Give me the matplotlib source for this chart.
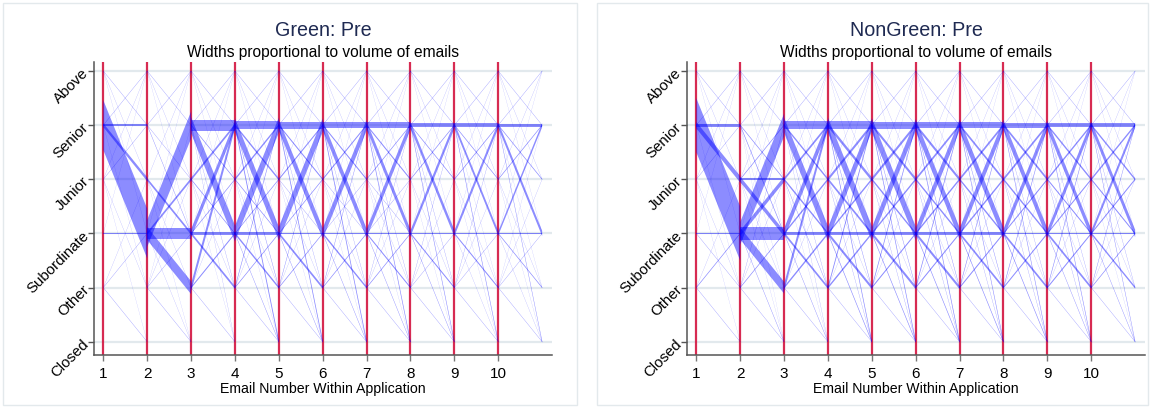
import matplotlib
matplotlib.use("Agg")
import matplotlib.pyplot as plt
from matplotlib.patches import Rectangle

plt.rcParams["font.family"] = ["Liberation Sans", "DejaVu Sans"]

# Position of each category on the vertical axis (0 = bottom)
CATEGORIES = ["Closed", "Other", "Subordinate", "Junior", "Senior", "Above"]
CODES = {"C": 0, "O": 1, "B": 2, "J": 3, "S": 4, "A": 5}   # B = Subordinate
EMAIL_NUMBERS = list(range(1, 11))
EMAILS_PER_LEVEL = 100          # band height equal to one category spacing

# Links with only a trickle of emails, present between every pair of emails
FAINT_LINKS = ["AS", "SA", "AJ", "JA", "AB", "BA", "OJ", "JO", "OC", "JC"]
FAINT_EMAILS = 1

# Emails moving from the sender level at email k (first letter)
# to the sender level at email k+1 (second letter), one dict per k
GREEN_FLOWS = [
    {"SB": 92, "SJ": 7, "SS": 3, "BB": 2, "SO": 1, "JS": 1, "OB": 1},
    {"BS": 50, "BO": 24, "BB": 20, "BJ": 5, "JB": 5, "SB": 2, "SJ": 1, "BC": 1, "OS": 1, "OB": 1},
    {"SB": 30, "SS": 20, "BS": 15, "OS": 14, "JS": 5, "BB": 5, "BO": 5, "OB": 3,
     "SO": 2, "SC": 2, "SJ": 2, "JB": 2, "BJ": 2},
    {"BS": 28, "SB": 25, "SS": 16, "SC": 8, "SJ": 4, "JS": 4, "BO": 4, "OS": 4, "BB": 4,
     "SO": 3, "OB": 2, "BC": 2, "JB": 2, "BJ": 2},
    {"BS": 25, "SB": 20, "SS": 13, "SC": 7, "BO": 5, "SJ": 3, "JS": 3, "OS": 3, "BB": 3,
     "SO": 2, "OB": 2, "BC": 2, "JB": 1, "BJ": 2},
    {"BS": 20, "SB": 18, "SS": 12, "SC": 7, "BO": 4, "SJ": 3, "JS": 3, "OS": 3, "BB": 3,
     "SO": 2, "OB": 2, "BC": 2, "JB": 1, "BJ": 1},
    {"BS": 16, "SB": 14, "SS": 10, "SC": 6, "BO": 3, "SJ": 3, "JS": 2, "OS": 2, "BB": 3,
     "SO": 2, "OB": 2, "BC": 2, "JB": 1, "BJ": 1},
    {"BS": 11, "SB": 12, "SS": 8, "SC": 5, "BO": 3, "SJ": 2, "JS": 2, "OS": 2, "BB": 2,
     "SO": 2, "OB": 1, "BC": 2},
    {"BS": 10, "SB": 9, "SS": 7, "SC": 5, "BO": 3, "SJ": 2, "JS": 2, "OS": 2, "BB": 2,
     "SO": 1, "OB": 1, "BC": 1},
    {"BS": 7, "SB": 10, "SS": 6, "SC": 4, "BO": 2, "SJ": 2, "JS": 2, "OS": 1, "BB": 2,
     "SO": 1, "OB": 1, "BC": 1},
]

NONGREEN_FLOWS = [
    {"SB": 100, "SJ": 12, "SS": 6, "BB": 3, "OB": 2, "SO": 1, "BO": 1, "JS": 1},
    {"BS": 42, "BB": 25, "BO": 22, "BJ": 10, "JB": 10, "JJ": 3, "SB": 3, "SJ": 2, "JS": 2,
     "OS": 2, "OB": 2, "BC": 2, "SO": 1, "SC": 1},
    {"SB": 28, "BS": 18, "SS": 16, "OS": 14, "BB": 5, "BO": 5, "JS": 5, "JB": 4, "BJ": 4,
     "SJ": 4, "OB": 4, "SO": 2, "SC": 2, "BC": 2, "JO": 2},
    {"SB": 28, "BS": 23, "SS": 14, "SJ": 7, "JS": 6, "BO": 6, "OS": 6, "SC": 6, "JB": 5,
     "BJ": 4, "OB": 4, "BB": 4, "SO": 3, "BC": 3, "JC": 2},
    {"SB": 26, "BS": 22, "SS": 13, "SJ": 6, "JS": 6, "BO": 6, "OS": 5, "SC": 6, "JB": 4,
     "BJ": 4, "OB": 3, "BB": 4, "SO": 3, "BC": 3, "JC": 2},
    {"SB": 22, "BS": 20, "SS": 12, "SJ": 6, "JS": 5, "BO": 6, "OS": 5, "SC": 6, "JB": 4,
     "BJ": 4, "OB": 3, "BB": 4, "SO": 3, "BC": 3, "JC": 2},
    {"SB": 22, "BS": 19, "SS": 10, "SJ": 5, "JS": 5, "BO": 5, "OS": 4, "SC": 5, "JB": 4,
     "BJ": 4, "OB": 3, "BB": 4, "SO": 3, "BC": 3, "JC": 2},
    {"SB": 19, "BS": 16, "SS": 9, "SJ": 5, "JS": 5, "BO": 5, "OS": 4, "SC": 5, "JB": 4,
     "BJ": 3, "OB": 3, "BB": 3, "SO": 2, "BC": 3, "JC": 2},
    {"SB": 16, "BS": 14, "SS": 8, "SJ": 4, "JS": 4, "BO": 5, "OS": 4, "SC": 5, "JB": 3,
     "BJ": 3, "OB": 3, "BB": 3, "SO": 2, "BC": 2, "JC": 2},
    {"SB": 14, "BS": 10, "SS": 7, "SJ": 4, "JS": 4, "BO": 4, "OS": 3, "SC": 4, "JB": 3,
     "BJ": 3, "OB": 2, "BB": 3, "SO": 2, "BC": 2, "JC": 1},
]

PANELS = [("Green: Pre", GREEN_FLOWS), ("NonGreen: Pre", NONGREEN_FLOWS)]
SUBTITLE = "Widths proportional to volume of emails"
XLABEL = "Email Number Within Application"

W, H = 1150, 408
fig = plt.figure(figsize=(W / 100, H / 100), dpi=100)
fig.patch.set_facecolor("white")

panel_left = [94.3, 687.3]
frames = [(3, 3, 577, 405), (597, 3, 1148, 405)]
ax_w = 457.5
ax_top, ax_bottom = 62.0, 355.3

for (title, flows), px, (fx0, fy0, fx1, fy1) in zip(PANELS, panel_left, frames):
    fig.add_artist(Rectangle((fx0 / W, 1 - fy1 / H), (fx1 - fx0) / W, (fy1 - fy0) / H,
                             transform=fig.transFigure, fill=False,
                             edgecolor="#e3e9ec", linewidth=1.0))
    ax = fig.add_axes([px / W, 1 - ax_bottom / H, ax_w / W, (ax_bottom - ax_top) / H])

    for level in range(len(CATEGORIES)):
        ax.axhline(level, color="#e2e9ed", linewidth=1.6, zorder=1)
    for k in EMAIL_NUMBERS:
        ax.axvline(k, color="#d3143f", linewidth=1.6, alpha=0.9, zorder=2)

    for step, links in enumerate(flows, start=1):
        merged = dict(links)
        for code in FAINT_LINKS:
            merged.setdefault(code, FAINT_EMAILS)
        for code, n in merged.items():
            y0, y1 = CODES[code[0]], CODES[code[1]]
            half = n / EMAILS_PER_LEVEL / 2
            ax.fill_between([step, step + 1], [y0 - half, y1 - half], [y0 + half, y1 + half],
                            facecolor=(0, 0, 1, 0.45), edgecolor="none", linewidth=0, zorder=3)

    ax.set_xlim(0.795, 11.22)
    ax.set_ylim(-0.25, 5.166)
    ax.set_xticks(EMAIL_NUMBERS)
    ax.set_xticklabels([str(k) for k in EMAIL_NUMBERS], fontsize=11)
    ax.set_yticks(range(len(CATEGORIES)))
    ax.set_yticklabels(CATEGORIES, fontsize=10.8, rotation=45, ha="right", va="center",
                       rotation_mode="anchor")
    ax.tick_params(axis="x", length=4, width=1, color="#777777", pad=4.5)
    ax.tick_params(axis="y", length=4, width=1, color="#555555", pad=1.5)
    for side in ("top", "right"):
        ax.spines[side].set_visible(False)
    for side in ("left", "bottom"):
        ax.spines[side].set_color("#555555")
        ax.spines[side].set_linewidth(1.1)
    ax.set_xlabel(XLABEL, fontsize=10.2, labelpad=1.0)

    cx = (px + ax_w / 2) / W
    fig.text(cx, 1 - 36 / H, title, ha="center", va="baseline", fontsize=14.2, color="#1f2a52")
    fig.text(cx, 1 - 56.5 / H, SUBTITLE, ha="center", va="baseline", fontsize=11.2, color="black")

fig.savefig("out.png", dpi=100, facecolor="white")
